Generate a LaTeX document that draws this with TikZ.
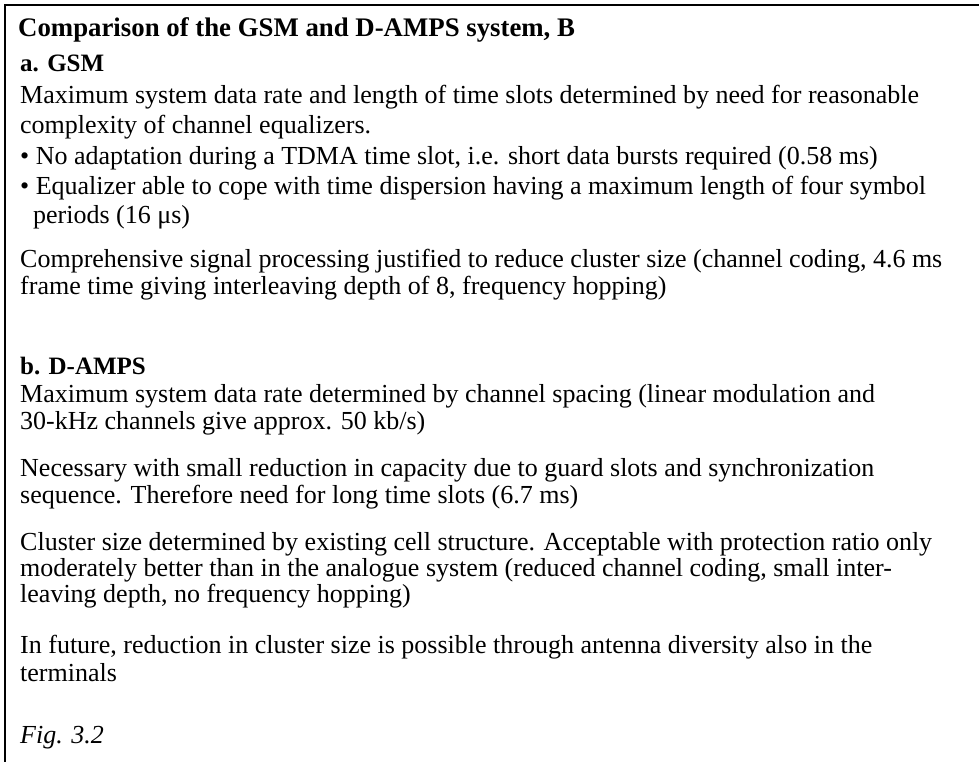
\documentclass[tikz,border=0pt]{standalone}
\usepackage{fontspec}
\setmainfont{Liberation Serif}
\begin{document}
\begin{tikzpicture}[x=1pt,y=-1pt,
  txt/.style={anchor=base west, inner sep=0pt, font=\fontsize{26}{27}\selectfont},
  hd/.style={anchor=base west, inner sep=0pt, font=\fontsize{25}{27}\selectfont\bfseries},
  ttl/.style={anchor=base west, inner sep=0pt, font=\fontsize{26.8}{30}\selectfont\bfseries},
  frameline/.style={line width=2.2pt}]
\useasboundingbox (0,0) rectangle (979,762);
\coordinate (fb) at (5,762);
\coordinate (fc) at (5,5);
\coordinate (fr) at (979,5);
\draw[frameline] (fb) -- (fc) -- (fr);
\node[ttl] (title) at (18,37) {Comparison of the GSM and D-AMPS system, B};
\node[hd] (ha) at (20,72) {a. GSM};
\node[txt] (a1) at (20,104) {Maximum system data rate and length of time slots determined by need for reasonable};
\node[txt] (a2) at (20,134) {complexity of channel equalizers.};
\node[txt] (a3) at (20,165) {• No adaptation during a TDMA time slot, i.e. short data bursts required (0.58 ms)};
\node[txt] (a4) at (20,194) {• Equalizer able to cope with time dispersion having a maximum length of four symbol};
\node[txt] (a5) at (33,223) {periods (16 μs)};
\node[txt] (a6) at (20,267) {Comprehensive signal processing justified to reduce cluster size (channel coding, 4.6 ms};
\node[txt] (a7) at (20,294) {frame time giving interleaving depth of 8, frequency hopping)};
\node[hd] (hb) at (20,374) {b. D-AMPS};
\node[txt] (b1) at (20,402) {Maximum system data rate determined by channel spacing (linear modulation and};
\node[txt] (b2) at (20,429) {30-kHz channels give approx. 50 kb/s)};
\node[txt] (b3) at (20,476) {Necessary with small reduction in capacity due to guard slots and synchronization};
\node[txt] (b4) at (20,503) {sequence. Therefore need for long time slots (6.7 ms)};
\node[txt] (b5) at (20,550) {Cluster size determined by existing cell structure. Acceptable with protection ratio only};
\node[txt] (b6) at (20,576) {moderately better than in the analogue system (reduced channel coding, small inter-};
\node[txt] (b7) at (20,602) {leaving depth, no frequency hopping)};
\node[txt] (b8) at (20,653) {In future, reduction in cluster size is possible through antenna diversity also in the};
\node[txt] (b9) at (20,681) {terminals};
\node[txt] (fig) at (20,743) {\itshape Fig. 3.2};
\end{tikzpicture}
\end{document}
